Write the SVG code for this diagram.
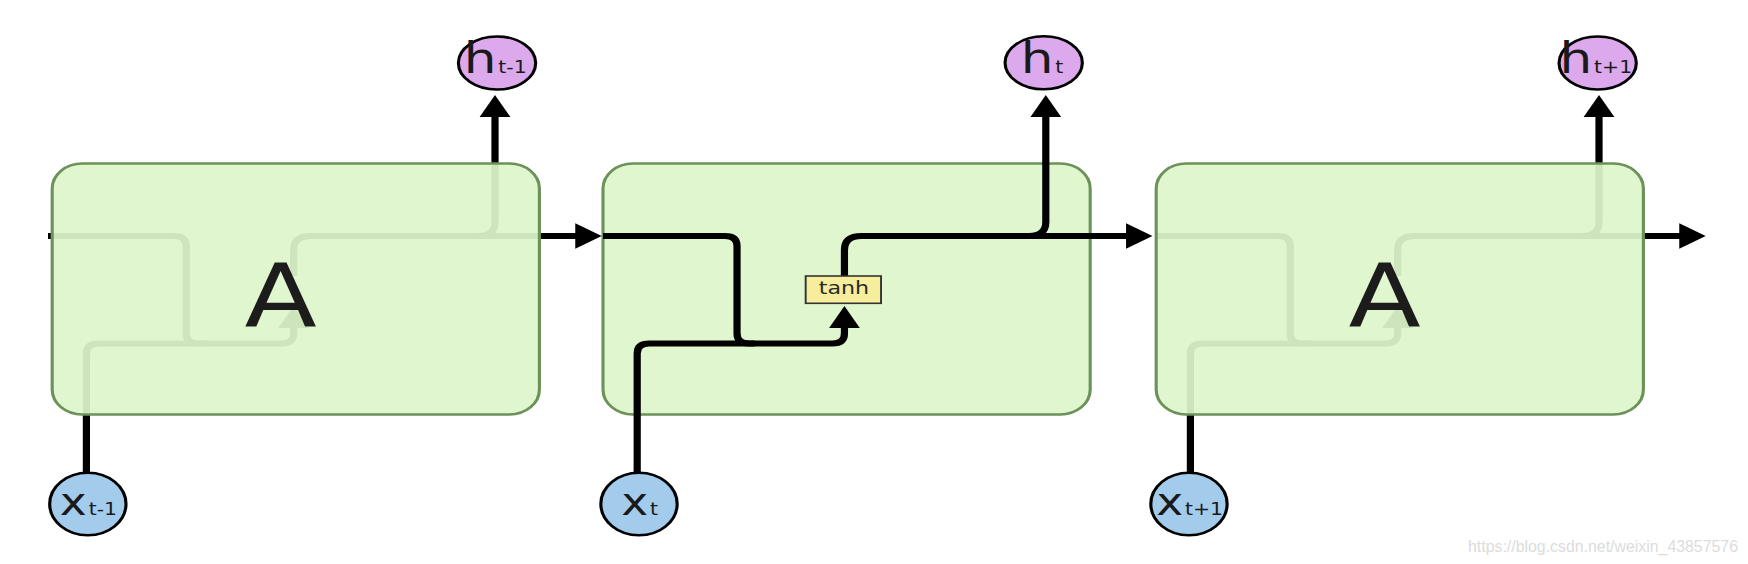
<svg xmlns="http://www.w3.org/2000/svg" width="1748" height="564" viewBox="0 0 1748 564">
<style>
.cell{fill:#dff6cf;stroke:#6c9159;stroke-width:2.6}
.cell-ov{fill:#ddf5cb;fill-opacity:0.93;stroke:#6c9159;stroke-width:2.6}
.wire{fill:none;stroke:#000;stroke-width:6}
.arr{marker-end:url(#ah)}
.tanh rect{fill:#f6ed9d;stroke:#333;stroke-width:1.6}
.tanh text{font-family:"DejaVu Sans",sans-serif;font-size:18.5px;fill:#2a2a2a;text-anchor:middle}
.hnode ellipse{fill:#dba9ec;stroke:#000;stroke-width:2.6}
.xnode ellipse{fill:#a3ccec;stroke:#000;stroke-width:2.6}
.lbl{font-family:"DejaVu Sans",sans-serif;fill:#1a1a1a;text-anchor:middle}
.big{font-size:43px}
.xl{font-size:38px}
.sub{font-size:17px}
.A{font-family:"DejaVu Sans",sans-serif;font-size:88px;fill:#1c1c1c;text-anchor:middle}
.wm{font-family:"Liberation Sans",Arial,sans-serif;font-size:16px;fill:#dcdcdc}
</style>
<defs>
<marker id="ah" markerUnits="userSpaceOnUse" markerWidth="24" markerHeight="26" refX="2" refY="0" orient="auto" overflow="visible">
<path d="M0,-12.8 L22,0 L0,12.8 Z" fill="#000"/>
</marker>
</defs>
<g transform="scale(1.2,1)">
<g id="cell-t">
<rect class="cell" x="502.5" y="163.5" width="406" height="251" rx="25" ry="25"/>
</g>
<g id="connectors">
<path class="wire arr" d="M40,236 H145.2 Q155.2,236 155.2,246 V333.5 Q155.2,343.5 165.2,343.5 H234.7 Q244.7,343.5 244.7,333.5 V326"/>
<path class="wire" d="M72,472 V353.5 Q72,343.5 82,343.5 H170"/>
<path class="wire arr" d="M244.7,276 V250 Q244.7,236 258.7,236 H398.5 Q412.5,236 412.5,222 V115"/>
<path class="wire arr" d="M400,236 H481.4"/>
<path class="wire arr" d="M502.5,236 H604.2 Q614.2,236 614.2,246 V333.5 Q614.2,343.5 624.2,343.5 H693.7 Q703.7,343.5 703.7,333.5 V326"/>
<path class="wire" d="M531,472 V353.5 Q531,343.5 541,343.5 H629"/>
<path class="wire arr" d="M703.7,276 V250 Q703.7,236 717.7,236 H857.5 Q871.5,236 871.5,222 V115"/>
<path class="wire arr" d="M859,236 H940.4"/>
<path class="wire arr" d="M963.5,236 H1065.2 Q1075.2,236 1075.2,246 V333.5 Q1075.2,343.5 1085.2,343.5 H1154.7 Q1164.7,343.5 1164.7,333.5 V326"/>
<path class="wire" d="M992,472 V353.5 Q992,343.5 1002,343.5 H1090"/>
<path class="wire arr" d="M1164.7,276 V250 Q1164.7,236 1178.7,236 H1318.5 Q1332.5,236 1332.5,222 V115"/>
<path class="wire arr" d="M1320,236 H1401.4"/>
</g>
<g id="tanh-t" class="tanh">
<rect x="671.4" y="276" width="62.8" height="27.3"/>
<text x="703.3" y="294">tanh</text>
</g>
<g id="cell-t-1">
<rect class="cell-ov" x="43.5" y="163.5" width="406" height="251" rx="25" ry="25"/>
<text class="A" x="233.8" y="325.7">A</text>
</g>
<g id="cell-t+1">
<rect class="cell-ov" x="963.5" y="163.5" width="406" height="251" rx="25" ry="25"/>
<text class="A" x="1153.8" y="325.7">A</text>
</g>
<g id="h-t-1" class="hnode">
<ellipse cx="414.2" cy="63" rx="32.2" ry="26.5"/>
<text class="lbl big" x="412.7" y="73.3">h<tspan class="sub" dx="1.5">t-1</tspan></text>
</g>
<g id="h-t" class="hnode">
<ellipse cx="869.75" cy="62.8" rx="32.2" ry="26.5"/>
<text class="lbl big" x="868.3" y="73.3">h<tspan class="sub" dx="1.5">t</tspan></text>
</g>
<g id="h-t+1" class="hnode">
<ellipse cx="1331.4" cy="63" rx="32.2" ry="26.5"/>
<text class="lbl big" x="1329.9" y="73.3">h<tspan class="sub" dx="1.5">t+1</tspan></text>
</g>
<g id="x-t-1" class="xnode">
<ellipse cx="73.2" cy="504" rx="31.8" ry="31.2"/>
<text class="lbl xl" x="73.7" y="515">x<tspan class="sub" dx="1.5">t-1</tspan></text>
</g>
<g id="x-t" class="xnode">
<ellipse cx="532.5" cy="504" rx="31.8" ry="31.2"/>
<text class="lbl xl" x="533" y="515">x<tspan class="sub" dx="1.5">t</tspan></text>
</g>
<g id="x-t+1" class="xnode">
<ellipse cx="990.8" cy="504" rx="31.8" ry="31.2"/>
<text class="lbl xl" x="991.3" y="515">x<tspan class="sub" dx="1.5">t+1</tspan></text>
</g>
</g>
<text class="wm" x="1468" y="552" textLength="270" lengthAdjust="spacingAndGlyphs">https://blog.csdn.net/weixin_43857576</text>
</svg>
